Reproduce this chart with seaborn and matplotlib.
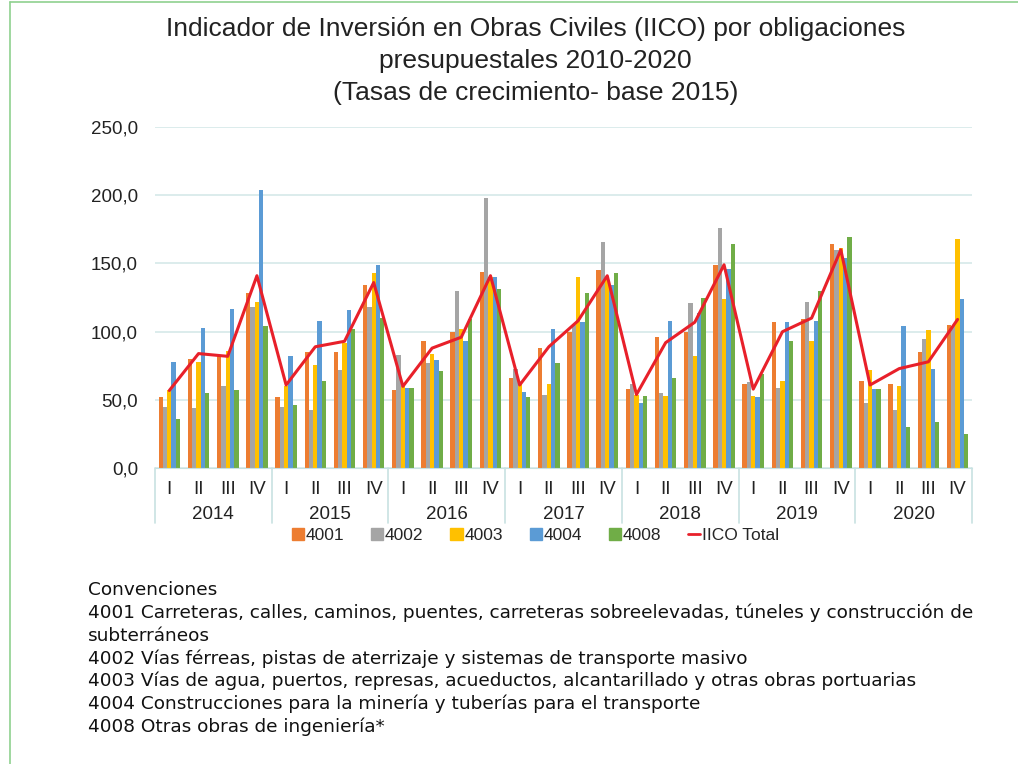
import numpy as np
import matplotlib.pyplot as plt
import pandas as pd
import seaborn as sns
from matplotlib.lines import Line2D

# Datos
anios = ['2014', '2015', '2016', '2017', '2018', '2019', '2020']
trimestres = ['I', 'II', 'III', 'IV']

s4001 = [52, 80, 82, 128, 52, 85, 85, 134, 57, 93, 100, 144, 66, 88, 100, 145,
         58, 96, 100, 149, 62, 107, 109, 164, 64, 62, 85, 105]
s4002 = [45, 44, 60, 118, 45, 43, 72, 118, 83, 77, 130, 198, 73, 54, 105, 166,
         62, 55, 121, 176, 63, 59, 122, 160, 48, 43, 95, 104]
s4003 = [57, 78, 86, 122, 60, 76, 92, 143, 60, 84, 102, 140, 62, 62, 140, 140,
         54, 53, 82, 124, 53, 64, 93, 161, 72, 60, 101, 168]
s4004 = [78, 103, 117, 204, 82, 108, 116, 149, 59, 79, 93, 140, 56, 102, 107, 134,
         48, 108, 114, 146, 52, 107, 108, 154, 58, 104, 73, 124]
s4008 = [36, 55, 57, 104, 46, 64, 102, 110, 59, 71, 109, 131, 52, 77, 128, 143,
         53, 66, 125, 164, 69, 93, 130, 169, 58, 30, 34, 25]
iico = [57, 84, 82, 141, 61, 89, 93, 136, 60, 88, 96, 141, 61, 89, 108, 141,
        54, 92, 107, 149, 58, 100, 110, 160, 61, 73, 78, 109]

series = {'4001': s4001, '4002': s4002, '4003': s4003, '4004': s4004, '4008': s4008}
colores = ['#ED7D31', '#A5A5A5', '#FFC000', '#5B9BD5', '#70AD47']

periodos = [a + '-' + t for a in anios for t in trimestres]
filas = []
for nombre, valores in series.items():
    for p, v in zip(periodos, valores):
        filas.append({'periodo': p, 'serie': nombre, 'valor': v})
df = pd.DataFrame(filas)

convenciones = [
    'Convenciones',
    '4001 Carreteras, calles, caminos, puentes, carreteras sobreelevadas, túneles y construcción de',
    'subterráneos',
    '4002 Vías férreas, pistas de aterrizaje y sistemas de transporte masivo',
    '4003 Vías de agua, puertos, represas, acueductos, alcantarillado y otras obras portuarias',
    '4004 Construcciones para la minería y tuberías para el transporte',
    '4008 Otras obras de ingeniería*',
]

sns.set_style('white')
plt.rcParams['font.family'] = ['Liberation Sans', 'DejaVu Sans']

fig = plt.figure(figsize=(10.18, 7.64), dpi=100)
ax = fig.add_axes([0.152, 0.387, 0.803, 0.447])

sns.barplot(data=df, x='periodo', y='valor', hue='serie', palette=colores,
            width=0.74, ax=ax, legend=False, saturation=1, linewidth=0)
sns.lineplot(x=np.arange(len(iico)), y=iico, color='#E8202A', linewidth=2.2, ax=ax)

ax.set_xlim(-0.5, len(periodos) - 0.5)
ax.set_ylim(0, 250)
ax.set_yticks([0, 50, 100, 150, 200, 250])
ax.set_yticklabels([f'{v:.1f}'.replace('.', ',') for v in [0, 50, 100, 150, 200, 250]])
ax.set_xticks(np.arange(len(periodos)))
ax.set_xticklabels(trimestres * len(anios))
ax.tick_params(axis='both', length=0, labelsize=13.5, colors='#222222')
ax.tick_params(axis='x', pad=9)
ax.tick_params(axis='y', pad=12)
ax.set_xlabel('')
ax.set_ylabel('')
ax.yaxis.grid(True, color='#d5e9e9', linewidth=1.2)
ax.set_axisbelow(True)
for lado in ['top', 'right', 'left']:
    ax.spines[lado].set_visible(False)
ax.spines['bottom'].set_color('#c8e2e2')

# Separadores de anios y etiquetas
tr = ax.get_xaxis_transform()
for i in range(len(anios) + 1):
    ax.plot([i * 4 - 0.5, i * 4 - 0.5], [0, -0.16], transform=tr, color='#c8e2e2',
            linewidth=1.2, clip_on=False)
for i, a in enumerate(anios):
    ax.text(i * 4 + 1.5, -0.134, a, transform=tr, ha='center', va='center',
            fontsize=13.5, color='#222222')

# Leyenda
handles = [plt.Rectangle((0, 0), 1, 1, color=c) for c in colores]
handles.append(Line2D([0], [0], color='#E8202A', linewidth=2))
labels = list(series.keys()) + ['IICO Total']
fig.legend(handles, labels, loc='center', bbox_to_anchor=(0.526, 0.299), ncol=6,
           frameon=False, fontsize=12.5, handlelength=0.7, handleheight=0.7,
           handletextpad=0.1, columnspacing=1.55)

fig.text(0.526, 0.920,
         'Indicador de Inversión en Obras Civiles (IICO) por obligaciones\n'
         'presupuestales 2010-2020\n(Tasas de crecimiento- base 2015)',
         ha='center', va='center', fontsize=19, linespacing=1.42, color='#222222')

for i, linea in enumerate(convenciones):
    fig.text(0.086, 1 - (590 + i * 22.8) / 764, linea, ha='left', va='center',
             fontsize=13.3, family='DejaVu Sans', color='#111111')

# Marco verde
fig.add_artist(Line2D([10 / 1018, 1], [1 - 2 / 764, 1 - 2 / 764], color='#8fd18f', linewidth=1.2))
fig.add_artist(Line2D([10 / 1018, 10 / 1018], [0, 1 - 2 / 764], color='#8fd18f', linewidth=1.2))

plt.savefig('out.png', dpi=100)
